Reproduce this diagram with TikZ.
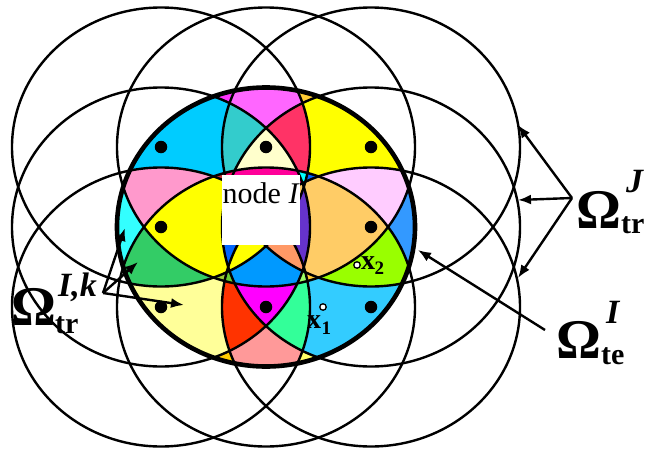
\documentclass[tikz,border=0pt]{standalone}
\usepackage{fontspec}
\setmainfont{Liberation Serif}
\usetikzlibrary{arrows.meta}
\definecolor{c1}{HTML}{FF33FF}
\definecolor{c1R}{HTML}{FFCC33}
\definecolor{c1b}{HTML}{FFCC00}
\definecolor{c1Rb}{HTML}{FFFF66}
\definecolor{c2}{HTML}{FF66FF}
\definecolor{c3}{HTML}{00CCFF}
\definecolor{c8}{HTML}{33FFFF}
\definecolor{c2b}{HTML}{FF9999}
\definecolor{c3b}{HTML}{FFFF99}
\definecolor{c3R}{HTML}{FFFF00}
\definecolor{c8R}{HTML}{3399FF}
\definecolor{c3Rb}{HTML}{33CCFF}
\definecolor{c4}{HTML}{33CCCC}
\definecolor{c7}{HTML}{FF99CC}
\definecolor{c10}{HTML}{CC3333}
\definecolor{c4R}{HTML}{FF3366}
\definecolor{c7R}{HTML}{FFCCFF}
\definecolor{c10R}{HTML}{0066FF}
\definecolor{c4b}{HTML}{FF3300}
\definecolor{c7b}{HTML}{33CC66}
\definecolor{c10b}{HTML}{99CC33}
\definecolor{c4Rb}{HTML}{33FF99}
\definecolor{c7Rb}{HTML}{99FF00}
\definecolor{c10Rb}{HTML}{FFCC33}
\definecolor{c5}{HTML}{FFFFCC}
\definecolor{c9}{HTML}{FFFF00}
\definecolor{c11}{HTML}{FF0066}
\definecolor{c5b}{HTML}{FF00FF}
\definecolor{c9R}{HTML}{FFCC66}
\definecolor{c11R}{HTML}{00FFFF}
\definecolor{c11b}{HTML}{66CC33}
\definecolor{c11Rb}{HTML}{99FF66}
\definecolor{c6}{HTML}{FF0099}
\definecolor{c12}{HTML}{00CCCC}
\definecolor{c13}{HTML}{0066FF}
\definecolor{c6b}{HTML}{0099FF}
\definecolor{c12R}{HTML}{00CCFF}
\definecolor{c13R}{HTML}{6633CC}
\definecolor{c12b}{HTML}{FFFF00}
\definecolor{c12Rb}{HTML}{FF9966}
\definecolor{c14}{HTML}{FFFF99}
\definecolor{c14R}{HTML}{FFCC66}
\definecolor{c14b}{HTML}{FFFF00}
\definecolor{c14Rb}{HTML}{FF9966}
\definecolor{c15}{HTML}{0099FF}
\def\RX{149pt}
\def\RY{139.5pt}
\newcommand\cellfill[2]{\begin{scope}\clip (MM) ellipse [x radius=\RX, y radius=\RY];\cellclips#2,\relax\fill[#1] (0,0) rectangle (654,450);\end{scope}}
\def\cellclips#1,#2\relax{\clip (#1) ellipse [x radius=\RX, y radius=\RY];\ifx\relax#2\relax\else\cellclips#2\relax\fi}
\begin{document}
\begin{tikzpicture}[x=1pt,y=-1pt,
  thincirc/.style={line width=2.4pt},
  thickcirc/.style={line width=4.6pt},
  arr/.style={line width=2.4pt,-{Latex[length=13pt,width=10pt]}},
  dotnode/.style={circle,fill=black,minimum size=12.5pt,inner sep=0pt},
  ocirc/.style={circle,draw=black,fill=white,line width=1.3pt,minimum size=6.5pt,inner sep=0pt},
  lbl/.style={inner sep=0pt,anchor=base west},
  bigO/.style={font=\fontsize{56}{56}\selectfont\bfseries},
  supit/.style={font=\fontsize{34}{34}\selectfont\bfseries\itshape},
  subtx/.style={font=\fontsize{30}{30}\selectfont\bfseries}]
\useasboundingbox (0,0) rectangle (654,450);
\fill[white] (0,0) rectangle (654,450);
\coordinate (TL) at (161,147);
\coordinate (TM) at (266,147);
\coordinate (TR) at (371,147);
\coordinate (ML) at (161,227);
\coordinate (MM) at (266,227);
\coordinate (MR) at (371,227);
\coordinate (BL) at (161,307);
\coordinate (BM) at (266,307);
\coordinate (BR) at (371,307);
% size 2
\cellfill{c1}{TL,TM}
\cellfill{c1R}{TR,TM}
\cellfill{c1b}{BL,BM}
\cellfill{c1Rb}{BR,BM}
% size 3
\cellfill{c2}{TL,TM,TR}
\cellfill{c3}{TL,TM,ML}
\cellfill{c8}{TL,ML,BL}
\cellfill{c2b}{BL,BM,BR}
\cellfill{c3b}{BL,BM,ML}
\cellfill{c3R}{TR,TM,MR}
\cellfill{c8R}{TR,MR,BR}
\cellfill{c3Rb}{BR,BM,MR}
% size 4
\cellfill{c4}{TL,TM,TR,ML}
\cellfill{c7}{TL,TM,ML,BL}
\cellfill{c10}{TL,TM,ML,BM}
\cellfill{c4R}{TL,TM,TR,MR}
\cellfill{c7R}{TR,TM,MR,BR}
\cellfill{c10R}{TR,TM,MR,BM}
\cellfill{c4b}{BL,BM,BR,ML}
\cellfill{c7b}{BL,BM,ML,TL}
\cellfill{c10b}{BL,BM,ML,TM}
\cellfill{c4Rb}{BL,BM,BR,MR}
\cellfill{c7Rb}{BR,BM,MR,TR}
\cellfill{c10Rb}{BR,BM,MR,TM}
% size 5
\cellfill{c5}{TL,TM,TR,ML,MR}
\cellfill{c9}{TL,TM,ML,BL,BM}
\cellfill{c11}{TL,TM,TR,ML,BM}
\cellfill{c5b}{BL,BM,BR,ML,MR}
\cellfill{c9R}{TR,TM,MR,BR,BM}
\cellfill{c11R}{TL,TM,TR,MR,BM}
\cellfill{c11b}{BL,BM,BR,ML,TM}
\cellfill{c11Rb}{BL,BM,BR,MR,TM}
% size 6
\cellfill{c6}{TL,TM,TR,ML,MR,BM}
\cellfill{c12}{TL,TM,TR,ML,BL,BM}
\cellfill{c13}{TL,TM,ML,MR,BL,BM}
\cellfill{c6b}{BL,BM,BR,ML,MR,TM}
\cellfill{c12R}{TL,TM,TR,MR,BR,BM}
\cellfill{c13R}{TR,TM,MR,ML,BR,BM}
\cellfill{c12b}{BL,BM,BR,ML,TL,TM}
\cellfill{c12Rb}{BL,BM,BR,MR,TR,TM}
% size 7
\cellfill{c14}{TL,TM,TR,ML,MR,BL,BM}
\cellfill{c14R}{TL,TM,TR,ML,MR,BR,BM}
\cellfill{c14b}{TL,TM,ML,MR,BL,BM,BR}
\cellfill{c14Rb}{TM,TR,ML,MR,BL,BM,BR}
% size 8
\cellfill{c15}{TL,TM,TR,ML,MR,BL,BM,BR}
% circles
\foreach \c in {TL,TM,TR,ML,MR,BL,BM,BR}
  \draw[thincirc] (\c) ellipse [x radius=\RX, y radius=\RY];
\draw[thickcirc] (MM) ellipse [x radius=\RX, y radius=\RY];
% node I box
\node[fill=white,minimum width=78pt,minimum height=70pt,inner sep=0pt,anchor=north west] (nodebox) at (222,175) {};
\node[lbl,font=\fontsize{30}{30}\selectfont] (nodetext) at (222.5,203) {node \textit{I}};
% dots
\node[dotnode] (dTL) at (TL) {};
\node[dotnode] (dTM) at (TM) {};
\node[dotnode] (dTR) at (TR) {};
\node[dotnode] (dML) at (ML) {};
\node[dotnode] (dMR) at (MR) {};
\node[dotnode] (dBL) at (BL) {};
\node[dotnode] (dBM) at (BM) {};
\node[dotnode] (dBR) at (BR) {};
% sample points
\node[ocirc] (x2c) at (357,265) {};
\node[lbl,font=\fontsize{28}{28}\selectfont\bfseries] (x2) at (361,269) {x};
\node[lbl,font=\fontsize{19}{19}\selectfont\bfseries] (x2s) at (374.5,274) {2};
\node[ocirc] (x1c) at (323,307) {};
\node[lbl,font=\fontsize{28}{28}\selectfont\bfseries] (x1) at (307,328) {x};
\node[lbl,font=\fontsize{19}{19}\selectfont\bfseries] (x1s) at (321.5,334) {1};
% labels
\node[lbl,bigO] (OmJ) at (576,228) {Ω};
\node[lbl,supit] (OmJsup) at (626,192) {J};
\node[lbl,subtx] (OmJsub) at (621,233) {tr};
\node[lbl,bigO] (OmTe) at (556,358) {Ω};
\node[lbl,supit] (OmTesup) at (606,323) {I};
\node[lbl,subtx] (OmTesub) at (601,364) {te};
\node[lbl,bigO] (OmIk) at (11,325) {Ω};
\node[lbl,supit] (OmIksup) at (58,296) {I,k};
\node[lbl,subtx] (OmIksub) at (55,333) {tr};
% arrows
\coordinate (Jtail) at (572,198);
\coordinate (J1) at (518,125);
\coordinate (J2) at (518,200);
\coordinate (J3) at (518,278);
\draw[arr] (Jtail) -- (J1);
\draw[arr] (Jtail) -- (J2);
\draw[arr] (Jtail) -- (J3);
\coordinate (Tetail) at (545,330);
\coordinate (Tehead) at (418,250);
\draw[arr] (Tetail) -- (Tehead);
\coordinate (Iktail) at (103,293);
\coordinate (Ik1) at (125,228);
\coordinate (Ik2) at (138,262);
\coordinate (Ik3) at (184,305);
\draw[arr] (Iktail) -- (Ik1);
\draw[arr] (Iktail) -- (Ik2);
\draw[arr] (Iktail) -- (Ik3);
\end{tikzpicture}
\end{document}
